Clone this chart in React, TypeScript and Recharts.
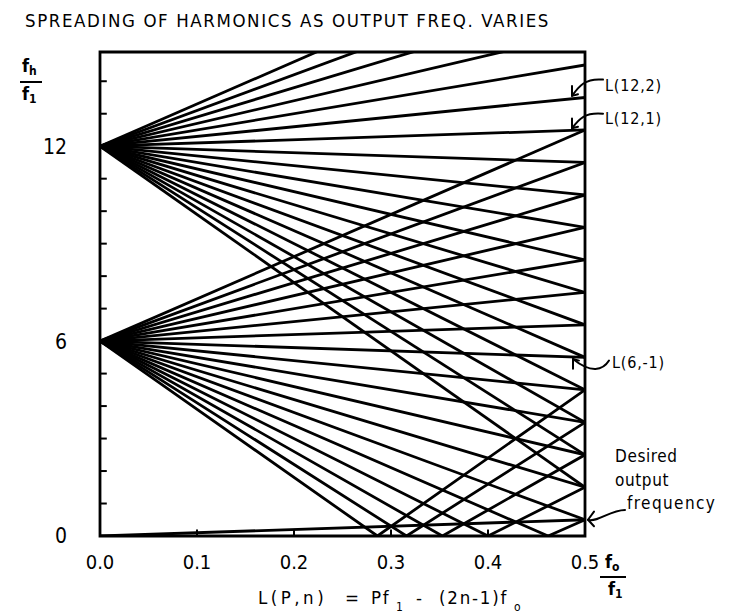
import { LineChart, Line, XAxis, YAxis, ReferenceLine, ReferenceArea } from 'recharts';

// f_h / f_1 where each harmonic line leaves the right edge (f_o / f_1 = 0.5)
const APEX_12 = 12;
const ENDS_12 = [18.5, 17.5, 16.5, 15.5, 14.5, 13.5, 12.5, 11.5, 10.5, 9.5, 8.5, 7.5, 6.5, 5.5, 4.5, 3.5, 2.5, 1.5];
const APEX_6 = 6;
const ENDS_6 = [12.5, 11.5, 10.5, 9.5, 8.5, 7.5, 6.5, 5.5, 4.5, 3.5, 2.5, 1.5, 0.5];
// steep lines from 6 that fold back up off the zero axis
const BOUNCE_6_ZERO = [0.462, 0.4, 0.353, 0.316, 0.286];
const BOUNCE_6_ENDS = [0.5, 1.5, 2.5, 3.5, 4.5];
// the wanted output line f_h = f_o
const DESIRED_FO = [0, 0.5];
const DESIRED_FH = [0, 0.5];

const X_TICKS = [0, 0.1, 0.2, 0.3, 0.4, 0.5];
const X_MINOR = [0.1, 0.2, 0.3, 0.4];
const Y_TICKS = [0, 6, 12];
const Y_MINOR = [1, 2, 3, 4, 5, 6, 7, 8, 9, 10, 11, 12, 13, 14];
const FO_MAX = 0.5;
const FH_MAX = 14.9;

type Pt = { fo: number; fh: number };

const lines: Pt[][] = [
  ...ENDS_12.map((e) => [{ fo: 0, fh: APEX_12 }, { fo: FO_MAX, fh: e }]),
  ...ENDS_6.map((e) => [{ fo: 0, fh: APEX_6 }, { fo: FO_MAX, fh: e }]),
  ...BOUNCE_6_ZERO.map((z, i) => [
    { fo: 0, fh: APEX_6 },
    { fo: z, fh: 0 },
    { fo: FO_MAX, fh: BOUNCE_6_ENDS[i] },
  ]),
  DESIRED_FO.map((fo, i) => ({ fo, fh: DESIRED_FH[i] })),
];

const W = 734;
const H = 616;
const PLOT = { left: 100, right: 585, top: 52, bottom: 536 };
const px = (fo: number) => PLOT.left + (fo / FO_MAX) * (PLOT.right - PLOT.left);
const py = (fh: number) => PLOT.bottom - (fh / FH_MAX) * (PLOT.bottom - PLOT.top);

const FONT = '"DejaVu Sans Condensed", "DejaVu Sans", sans-serif';
const INK = '#000';

function Arrow({ d, head }: { d: string; head: string }) {
  return (
    <g fill="none" stroke={INK} strokeWidth={2} strokeLinecap="round" strokeLinejoin="round">
      <path d={d} />
      <path d={head} />
    </g>
  );
}

function Overlay() {
  const xe = px(FO_MAX);
  return (
    <svg width={W} height={H} style={{ position: 'absolute', left: 0, top: 0, pointerEvents: 'none' }}>
      <g fontFamily={FONT} fill={INK}>
        <text x={25} y={27} fontSize={18.5} letterSpacing={1.6}>
          SPREADING OF HARMONICS AS OUTPUT FREQ. VARIES
        </text>

        {/* y label f_h / f_1 */}
        <text x={22} y={72} fontSize={18} fontWeight="bold">f<tspan dy={3} fontSize={12}>h</tspan></text>
        <line x1={20} x2={42} y1={82} y2={82} stroke={INK} strokeWidth={2} />
        <text x={22} y={100} fontSize={18} fontWeight="bold">f<tspan dy={3} fontSize={12}>1</tspan></text>

        {/* x label f_o / f_1 */}
        <text x={605} y={568} fontSize={18} fontWeight="bold">f<tspan dy={3} fontSize={12}>o</tspan></text>
        <line x1={600} x2={626} y1={577} y2={577} stroke={INK} strokeWidth={2} />
        <text x={608} y={595} fontSize={18} fontWeight="bold">f<tspan dy={3} fontSize={12}>1</tspan></text>

        {/* L(P,n) = Pf1 - (2n-1)fo */}
        <g fontSize={18.5} letterSpacing={1.8}>
          <text x={258} y={604} letterSpacing={3.5}>L(P,n)</text>
          <text x={345} y={604}>=</text>
          <text x={371} y={604}>Pf</text>
          <text x={396} y={611} fontSize={12}>1</text>
          <text x={416} y={604}>-</text>
          <text x={439} y={604}>(2n-1)f</text>
          <text x={514} y={611} fontSize={12}>o</text>
        </g>

        <g fontSize={16} letterSpacing={0.8}>
          <text x={605} y={91}>L(12,2)</text>
          <text x={605} y={124}>L(12,1)</text>
          <text x={612} y={368}>L(6,-1)</text>
        </g>
        <g fontSize={17} letterSpacing={0.6}>
          <text x={615} y={462}>Desired</text>
          <text x={615} y={486}>output</text>
          <text x={627} y={509} letterSpacing={1.4}>frequency</text>
        </g>
      </g>

      <Arrow
        d={`M ${xe + 18} ${py(14.05)} C ${xe} ${py(14.1)}, ${xe - 6} ${py(13.85)}, ${xe - 13} ${py(13.55)}`}
        head={`M ${xe - 13} ${py(13.85)} L ${xe - 13} ${py(13.55)} L ${xe - 7} ${py(13.6)}`}
      />
      <Arrow
        d={`M ${xe + 18} ${py(13.0)} C ${xe} ${py(13.05)}, ${xe - 6} ${py(12.85)}, ${xe - 13} ${py(12.55)}`}
        head={`M ${xe - 13} ${py(12.85)} L ${xe - 13} ${py(12.55)} L ${xe - 7} ${py(12.6)}`}
      />
      <Arrow
        d={`M ${xe + 24} ${py(5.4)} C ${xe + 18} ${py(5.1)}, ${xe + 6} ${py(5.0)}, ${xe - 12} ${py(5.45)}`}
        head={`M ${xe - 12} ${py(5.15)} L ${xe - 12} ${py(5.45)} L ${xe - 6} ${py(5.4)}`}
      />
      <Arrow
        d={`M ${xe + 40} ${py(0.8)} C ${xe + 25} ${py(0.8)}, ${xe + 12} ${py(0.4)}, ${xe + 3} ${py(0.5)}`}
        head={`M ${xe + 9} ${py(0.75)} L ${xe + 3} ${py(0.5)} L ${xe + 9} ${py(0.3)}`}
      />
    </svg>
  );
}

export default function App() {
  return (
    <div style={{ position: 'absolute', left: 0, top: 0, width: W, height: H, background: '#fff' }}>
      <LineChart
        width={W}
        height={H}
        margin={{ top: PLOT.top, right: W - PLOT.right, bottom: 50, left: 40 }}
      >
        <XAxis
          dataKey="fo"
          type="number"
          domain={[0, FO_MAX]}
          ticks={X_TICKS}
          allowDataOverflow
          height={30}
          axisLine={false}
          tickLine={false}
          tickSize={0}
          tickMargin={19}
          tickFormatter={(v: number) => v.toFixed(1)}
          tick={{ fontSize: 20, fill: INK, fontFamily: FONT }}
        />
        <YAxis
          type="number"
          domain={[0, FH_MAX]}
          ticks={Y_TICKS}
          allowDataOverflow
          width={60}
          axisLine={false}
          tickLine={false}
          tickSize={0}
          tickMargin={33}
          tick={{ fontSize: 21, fill: INK, fontFamily: FONT }}
        />
        {Y_MINOR.map((y) => (
          <ReferenceLine
            key={`y${y}`}
            segment={[{ x: 0, y }, { x: 0.007, y }]}
            stroke={INK}
            strokeWidth={2}
          />
        ))}
        {X_MINOR.map((x) => (
          <ReferenceLine
            key={`x${x}`}
            segment={[{ x, y: 0 }, { x, y: 0.2 }]}
            stroke={INK}
            strokeWidth={2}
          />
        ))}
        {lines.map((pts, i) => (
          <Line
            key={i}
            data={pts}
            dataKey="fh"
            type="linear"
            stroke={INK}
            strokeWidth={2.8}
            dot={false}
            activeDot={false}
            isAnimationActive={false}
          />
        ))}
        <ReferenceArea
          x1={0}
          x2={FO_MAX}
          y1={0}
          y2={FH_MAX}
          fill="none"
          stroke={INK}
          strokeWidth={2.8}
        />
      </LineChart>
      <Overlay />
    </div>
  );
}
